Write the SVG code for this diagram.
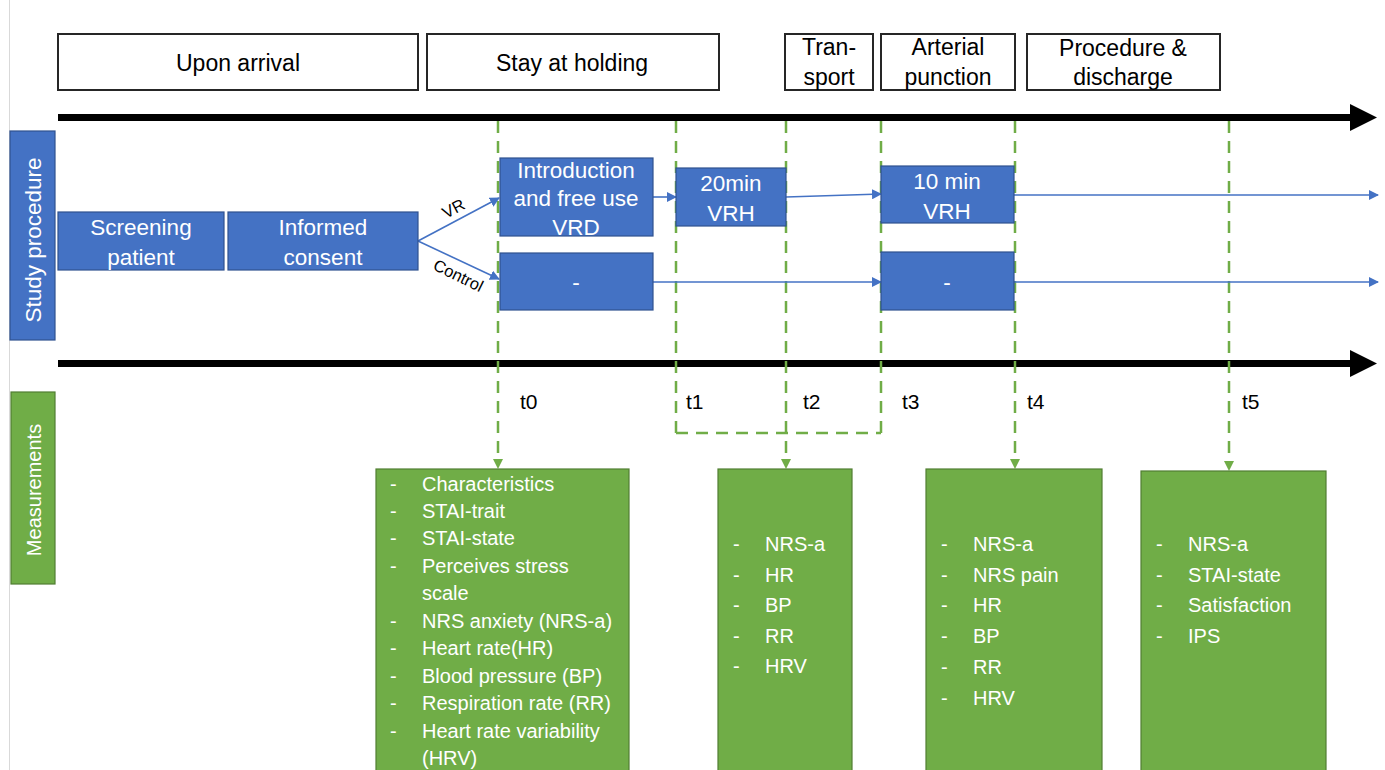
<svg xmlns="http://www.w3.org/2000/svg" width="1385" height="770" viewBox="0 0 1385 770">
<defs>
<style>
.hdr{fill:#fff;stroke:#262626;stroke-width:2}
.ht{font-family:"Liberation Sans",Arial,sans-serif;font-size:23px;fill:#000;text-anchor:middle}
.blue{fill:#4472C4;stroke:#2F528F;stroke-width:1.2}
.bt{font-family:"Liberation Sans",Arial,sans-serif;font-size:22.5px;fill:#fff;text-anchor:middle}
.green{fill:#70AD47;stroke:#507E32;stroke-width:1.2}
.gt{font-family:"Liberation Sans",Arial,sans-serif;font-size:20px;fill:#fff}
.gt2{font-family:"Liberation Sans",Arial,sans-serif;font-size:20px;fill:#fff}
.tl{font-family:"Liberation Sans",Arial,sans-serif;font-size:21px;fill:#000}
.dash{stroke:#70AD47;stroke-width:2.5;stroke-dasharray:12 8;fill:none}
.flow{stroke:#4472C4;stroke-width:1.6;fill:none;marker-end:url(#ba)}
.lbl{font-family:"Liberation Sans",Arial,sans-serif;font-size:16.5px;fill:#000}
</style>
<marker id="ba" markerWidth="10" markerHeight="10" refX="9" refY="5" orient="auto" markerUnits="userSpaceOnUse">
<path d="M0,0 L10,5 L0,10 z" fill="#4472C4"/>
</marker>
</defs>
<rect width="1385" height="770" fill="#fff"/>
<line x1="9.5" y1="0" x2="9.5" y2="770" stroke="#d9d9d9" stroke-width="1"/>

<g id="headers">
<g id="h-arrival"><rect class="hdr" x="58" y="34" width="360" height="56"/><text class="ht" x="238" y="71">Upon arrival</text></g>
<g id="h-holding"><rect class="hdr" x="427" y="34" width="292" height="56"/><text class="ht" x="572" y="71">Stay at holding</text></g>
<g id="h-transport"><rect class="hdr" x="785" y="34" width="88" height="56"/><text class="ht" x="829" y="55">Tran-</text><text class="ht" x="829" y="85">sport</text></g>
<g id="h-arterial"><rect class="hdr" x="881" y="34" width="134" height="56"/><text class="ht" x="948" y="55">Arterial</text><text class="ht" x="948" y="85">punction</text></g>
<g id="h-procedure"><rect class="hdr" x="1027" y="34" width="193" height="56"/><text class="ht" x="1123" y="56">Procedure &amp;</text><text class="ht" x="1123" y="85">discharge</text></g>
</g>

<g id="timelines">
<rect x="58" y="114" width="1294" height="7" fill="#000"/>
<polygon points="1350,104 1377,117.5 1350,131" fill="#000"/>
<rect x="58" y="360" width="1294" height="7" fill="#000"/>
<polygon points="1350,350 1377,363.5 1350,377" fill="#000"/>
</g>

<g id="side-labels">
<g id="study-procedure"><rect class="blue" x="10" y="131" width="45" height="209"/><text class="bt" transform="translate(41,240) rotate(-90)">Study procedure</text></g>
<g id="measurements"><rect class="green" x="11" y="392" width="44" height="192"/><text class="gt2" text-anchor="middle" font-size="22" transform="translate(41,490) rotate(-90)">Measurements</text></g>
</g>

<g id="connectors">
<line class="dash" x1="498" y1="121" x2="498" y2="460"/>
<line class="dash" x1="676" y1="121" x2="676" y2="433"/>
<line class="dash" x1="786" y1="121" x2="786" y2="460"/>
<line class="dash" x1="881" y1="121" x2="881" y2="433"/>
<line class="dash" x1="1015" y1="121" x2="1015" y2="460"/>
<line class="dash" x1="1229" y1="121" x2="1229" y2="462"/>
<line class="dash" x1="676" y1="433" x2="881" y2="433"/>
<polygon points="493,459 503,459 498,469" fill="#70AD47"/>
<polygon points="781,459 791,459 786,469" fill="#70AD47"/>
<polygon points="1010,459 1020,459 1015,469" fill="#70AD47"/>
<polygon points="1224,461 1234,461 1229,471" fill="#70AD47"/>
<line class="flow" x1="418" y1="241" x2="499" y2="198"/>
<line class="flow" x1="418" y1="241" x2="499" y2="279"/>
<line class="flow" x1="653" y1="197" x2="676" y2="197"/>
<line class="flow" x1="786" y1="197" x2="881" y2="194"/>
<line class="flow" x1="1014" y1="195" x2="1378" y2="195"/>
<line class="flow" x1="653" y1="282" x2="881" y2="282"/>
<line class="flow" x1="1014" y1="282" x2="1378" y2="282"/>
<text class="lbl" transform="translate(446,219) rotate(-28)">VR</text>
<text class="lbl" transform="translate(432,269) rotate(26)">Control</text>
</g>

<g id="n-screening"><rect class="blue" x="58" y="212" width="166" height="58"/><text class="bt" x="141" y="235">Screening</text><text class="bt" x="141" y="265">patient</text></g>
<g id="n-consent"><rect class="blue" x="228" y="212" width="190" height="58"/><text class="bt" x="323" y="235">Informed</text><text class="bt" x="323" y="265">consent</text></g>
<g id="n-intro"><rect class="blue" x="500" y="158" width="153" height="78"/><text class="bt" x="576" y="178">Introduction</text><text class="bt" x="576" y="206">and free use</text><text class="bt" x="576" y="235">VRD</text></g>
<g id="n-20min"><rect class="blue" x="676" y="168" width="110" height="58"/><text class="bt" x="731" y="191">20min</text><text class="bt" x="731" y="221">VRH</text></g>
<g id="n-10min"><rect class="blue" x="881" y="166" width="133" height="57"/><text class="bt" x="947" y="189">10 min</text><text class="bt" x="947" y="219">VRH</text></g>
<g id="n-control1"><rect class="blue" x="500" y="253" width="153" height="57"/><text class="bt" x="576" y="290">-</text></g>
<g id="n-control2"><rect class="blue" x="881" y="252" width="133" height="58"/><text class="bt" x="947" y="290">-</text></g>

<g id="t-labels">
<text class="tl" x="520" y="409">t0</text>
<text class="tl" x="686" y="409">t1</text>
<text class="tl" x="803" y="409">t2</text>
<text class="tl" x="902" y="409">t3</text>
<text class="tl" x="1027" y="409">t4</text>
<text class="tl" x="1242" y="409">t5</text>
</g>

<g id="m-t0"><rect class="green" x="376" y="469" width="253" height="310"/>
<g class="gt">
<text x="390" y="491">-</text><text x="422" y="491">Characteristics</text>
<text x="390" y="518">-</text><text x="422" y="518">STAI-trait</text>
<text x="390" y="545">-</text><text x="422" y="545">STAI-state</text>
<text x="390" y="573">-</text><text x="422" y="573">Perceives stress</text>
<text x="422" y="600">scale</text>
<text x="390" y="628">-</text><text x="422" y="628">NRS anxiety (NRS-a)</text>
<text x="390" y="655">-</text><text x="422" y="655">Heart rate(HR)</text>
<text x="390" y="683">-</text><text x="422" y="683">Blood pressure (BP)</text>
<text x="390" y="710">-</text><text x="422" y="710">Respiration rate (RR)</text>
<text x="390" y="738">-</text><text x="422" y="738">Heart rate variability</text>
<text x="422" y="765">(HRV)</text>
</g></g>

<g id="m-t2"><rect class="green" x="718" y="469" width="134" height="310"/>
<g class="gt2">
<text x="733" y="551">-</text><text x="765" y="551">NRS-a</text>
<text x="733" y="582">-</text><text x="765" y="582">HR</text>
<text x="733" y="612">-</text><text x="765" y="612">BP</text>
<text x="733" y="643">-</text><text x="765" y="643">RR</text>
<text x="733" y="673">-</text><text x="765" y="673">HRV</text>
</g></g>

<g id="m-t4"><rect class="green" x="926" y="469" width="176" height="310"/>
<g class="gt2">
<text x="941" y="551">-</text><text x="973" y="551">NRS-a</text>
<text x="941" y="582">-</text><text x="973" y="582">NRS pain</text>
<text x="941" y="612">-</text><text x="973" y="612">HR</text>
<text x="941" y="643">-</text><text x="973" y="643">BP</text>
<text x="941" y="674">-</text><text x="973" y="674">RR</text>
<text x="941" y="705">-</text><text x="973" y="705">HRV</text>
</g></g>

<g id="m-t5"><rect class="green" x="1141" y="471" width="185" height="310"/>
<g class="gt2">
<text x="1156" y="551">-</text><text x="1188" y="551">NRS-a</text>
<text x="1156" y="582">-</text><text x="1188" y="582">STAI-state</text>
<text x="1156" y="612">-</text><text x="1188" y="612">Satisfaction</text>
<text x="1156" y="643">-</text><text x="1188" y="643">IPS</text>
</g></g>
</svg>
